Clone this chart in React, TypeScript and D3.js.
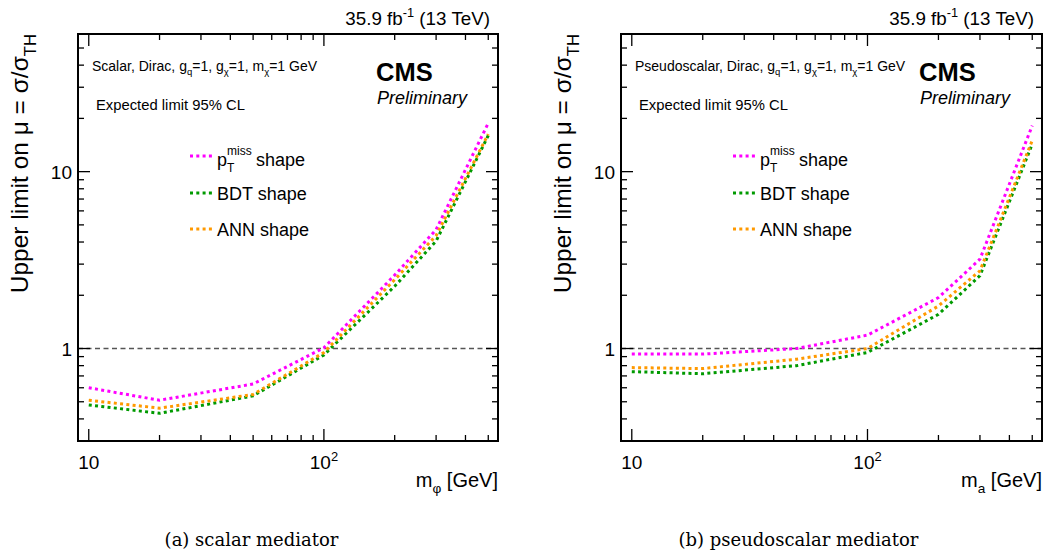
import React from "react";
import * as d3 from "d3";

// mediator masses (GeV)
const massPoints = [10, 20, 50, 100, 200, 300, 500];

// expected limits, scalar mediator
const scalarPtmiss = [0.6, 0.51, 0.63, 1.01, 2.6, 4.7, 18.8];
const scalarBdt = [0.48, 0.43, 0.54, 0.92, 2.25, 4.05, 16.0];
const scalarAnn = [0.51, 0.46, 0.55, 0.95, 2.45, 4.35, 16.3];

// expected limits, pseudoscalar mediator
const pseudoPtmiss = [0.93, 0.93, 1.0, 1.19, 1.94, 3.2, 18.2];
const pseudoBdt = [0.74, 0.72, 0.8, 0.95, 1.56, 2.58, 14.3];
const pseudoAnn = [0.78, 0.77, 0.87, 1.0, 1.74, 2.75, 15.0];

const seriesNames = ["ptmiss", "BDT", "ANN"];
const seriesColors = ["#ff00ff", "#009a00", "#ff9900"];
const panelModels = ["Scalar", "Pseudoscalar"];
const panelMassSymbols = ["\u03c6", "a"];
const panelCaptions = ["(a) scalar mediator", "(b) pseudoscalar mediator"];

const xDomain = [9, 550];
const yDomain = [0.3, 60];

const FONT = "'Liberation Sans', Arial, Helvetica, sans-serif";

const W = 1049;
const H = 560;
const top = 34;
const bottom = 441;
const panelX = [
  [78, 498],
  [621, 1042],
];
const captionX = [251.5, 798.5];

const isMajor = (t: number) => Math.abs(Math.log10(t) - Math.round(Math.log10(t))) < 1e-6;

// parts: [text, level] level 0 normal, 1 sub, -1 sup
const rich = (parts: [string, number][], size: number) => {
  let cur = 0;
  return parts.map(([s, lvl], i) => {
    const target = lvl === 1 ? size * 0.32 : lvl === -1 ? -size * 0.42 : 0;
    const dy = target - cur;
    cur = target;
    return (
      <tspan key={i} dy={dy} fontSize={lvl ? size * 0.68 : size}>
        {s}
      </tspan>
    );
  });
};

const Panel = ({ idx }: { idx: number }) => {
  const [x0, x1] = panelX[idx];
  const x = d3.scaleLog().domain(xDomain).range([x0, x1]);
  const y = d3.scaleLog().domain(yDomain).range([bottom, top]);
  const data =
    idx === 0 ? [scalarPtmiss, scalarBdt, scalarAnn] : [pseudoPtmiss, pseudoBdt, pseudoAnn];

  const line = d3
    .line<number>()
    .x((_, i) => x(massPoints[i]))
    .y((d) => y(d));

  const xTicks = x.ticks().filter((t) => t > xDomain[0] * 1.001 && t < xDomain[1] * 0.999);
  const yTicks = y.ticks().filter((t) => t > yDomain[0] * 1.001 && t < yDomain[1] * 0.999);

  const lx = x0 + 112;
  const legendY = [156, 193, 229];

  return (
    <g>
      {/* reference line at mu = 1 */}
      <line x1={x0} x2={x1} y1={y(1)} y2={y(1)} stroke="#555" strokeWidth={1.3} strokeDasharray="5,3.5" />

      {data.map((vals, i) => (
        <path
          key={seriesNames[i]}
          d={line(vals) || ""}
          fill="none"
          stroke={seriesColors[i]}
          strokeWidth={3}
          strokeDasharray="3,3.3"
        />
      ))}

      {/* ticks on all four sides */}
      {xTicks.map((t) => {
        const len = isMajor(t) ? 12 : 6;
        return (
          <g key={"x" + t}>
            <line x1={x(t)} x2={x(t)} y1={bottom} y2={bottom - len} stroke="#000" strokeWidth={1.3} />
            <line x1={x(t)} x2={x(t)} y1={top} y2={top + len} stroke="#000" strokeWidth={1.3} />
          </g>
        );
      })}
      {yTicks.map((t) => {
        const len = isMajor(t) ? 12 : 6;
        return (
          <g key={"y" + t}>
            <line x1={x0} x2={x0 + len} y1={y(t)} y2={y(t)} stroke="#000" strokeWidth={1.3} />
            <line x1={x1} x2={x1 - len} y1={y(t)} y2={y(t)} stroke="#000" strokeWidth={1.3} />
          </g>
        );
      })}
      <rect x={x0} y={top} width={x1 - x0} height={bottom - top} fill="none" stroke="#000" strokeWidth={2} />

      {/* tick labels */}
      {xTicks.filter(isMajor).map((t) => (
        <text key={"xl" + t} x={x(t)} y={bottom + 28} fontSize={19} textAnchor="middle">
          {t === 10 ? "10" : rich([["10", 0], [String(Math.round(Math.log10(t))), -1]], 19)}
        </text>
      ))}
      {yTicks.filter(isMajor).map((t) => (
        <text key={"yl" + t} x={x0 - 6} y={y(t) + 7} fontSize={19} textAnchor="end">
          {String(t)}
        </text>
      ))}

      {/* axis titles */}
      <text x={x1} y={bottom + 46} fontSize={20} textAnchor="end">
        {rich([["m", 0], [panelMassSymbols[idx], 1], [" [GeV]", 0]], 20)}
      </text>
      <text transform={`translate(${x0 - 50},${top}) rotate(-90)`} fontSize={24.5} textAnchor="end">
        {rich([["Upper limit on \u03bc = \u03c3/\u03c3", 0], ["TH", 1]], 24.5)}
      </text>
      <text x={x1 - 8} y={25} fontSize={18.8} textAnchor="end">
        {rich([["35.9 fb", 0], ["-1", -1], [" (13 TeV)", 0]], 18.8)}
      </text>

      {/* in-frame labels */}
      <text x={x0 + 14} y={71} fontSize={14}>
        {rich(
          [
            [panelModels[idx] + ", Dirac, g", 0],
            ["q", 1],
            ["=1, g", 0],
            ["\u03c7", 1],
            ["=1, m", 0],
            ["\u03c7", 1],
            ["=1 GeV", 0],
          ],
          14
        )}
      </text>
      <text x={x0 + 18} y={110} fontSize={14.8}>
        Expected limit 95% CL
      </text>
      <text x={x0 + 298} y={81} fontSize={25.5} fontWeight="bold">
        CMS
      </text>
      <text x={x0 + 299} y={104} fontSize={18} fontStyle="italic">
        Preliminary
      </text>

      {/* legend */}
      {legendY.map((ly, i) => (
        <line
          key={"lg" + i}
          x1={lx}
          x2={lx + 22}
          y1={ly}
          y2={ly}
          stroke={seriesColors[i]}
          strokeWidth={3}
          strokeDasharray="3,3.3"
        />
      ))}
      <text x={lx + 27} y={legendY[0] + 10} fontSize={18}>
        p
      </text>
      <text x={lx + 37} y={legendY[0] + 16} fontSize={12}>
        T
      </text>
      <text x={lx + 37} y={legendY[0] - 1} fontSize={12}>
        miss
      </text>
      <text x={lx + 66} y={legendY[0] + 10} fontSize={18}>
        shape
      </text>
      <text x={lx + 27} y={legendY[1] + 7} fontSize={18}>
        BDT shape
      </text>
      <text x={lx + 27} y={legendY[2] + 7} fontSize={18}>
        ANN shape
      </text>

      {/* caption */}
      <text
        x={captionX[idx]}
        y={546}
        fontSize={18}
        textAnchor="middle"
        fontFamily="'DejaVu Serif', 'Liberation Serif', serif"
      >
        {panelCaptions[idx]}
      </text>
    </g>
  );
};

export default function App() {
  return (
    <svg
      width={W}
      height={H}
      style={{ position: "absolute", left: 0, top: 0, background: "#fff" }}
      fontFamily={FONT}
    >
      <rect width={W} height={H} fill="#fff" />
      <Panel idx={0} />
      <Panel idx={1} />
    </svg>
  );
}
